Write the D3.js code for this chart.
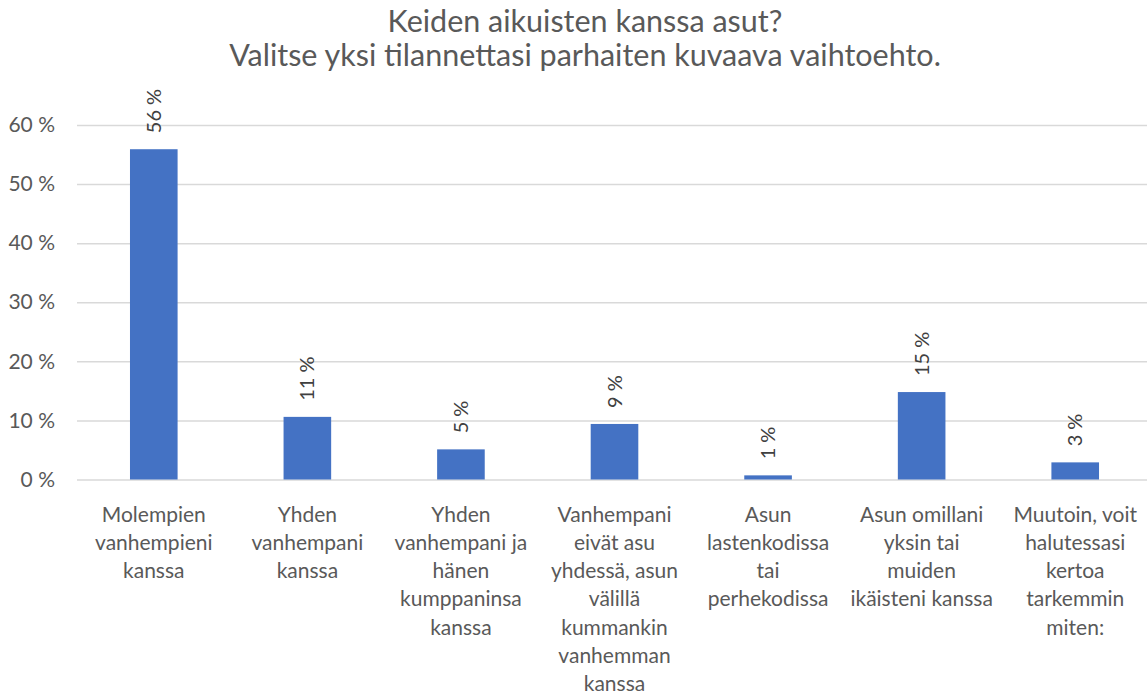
<!DOCTYPE html>
<html>
<head>
  <meta charset="UTF-8">
  <script src="https://d3js.org/d3.v7.min.js"></script>
  <title>Keiden aikuisten kanssa asut?</title>
  <style type="text/css">
    html, body { margin:0; background:#fff; }
    svg { display:block; font-family: Lato, "Open Sans", sans-serif; }
  </style>
</head>
<body>
  <div class="chart"></div>
  <script>
    // data
    var categories = [
      "Molempien\nvanhempieni\nkanssa",
      "Yhden\nvanhempani\nkanssa",
      "Yhden\nvanhempani ja\nhänen\nkumppaninsa\nkanssa",
      "Vanhempani\neivät asu\nyhdessä, asun\nvälillä\nkummankin\nvanhemman\nkanssa",
      "Asun\nlastenkodissa\ntai\nperhekodissa",
      "Asun omillani\nyksin tai\nmuiden\nikäisteni kanssa",
      "Muutoin, voit\nhalutessasi\nkertoa\ntarkemmin\nmiten:"
    ];
    var shares = [0.559, 0.106, 0.051, 0.094, 0.007, 0.148, 0.029];
    var yTicks = [0, 0.1, 0.2, 0.3, 0.4, 0.5, 0.6];
    var titleLines = ["Keiden aikuisten kanssa asut?", "Valitse yksi tilannettasi parhaiten kuvaava vaihtoehto."];

    var svgWidth = 1147, svgHeight = 695;
    var margin = {top: 125, right: -5, bottom: 215.5, left: 77};
    var width = svgWidth - margin.left - margin.right,
        height = svgHeight - margin.top - margin.bottom;

    var svg = d3.select(".chart")
      .append("svg")
      .attr("width", svgWidth)
      .attr("height", svgHeight);

    // title
    svg.append("g").selectAll("text")
      .data(titleLines)
      .enter()
      .append("text")
      .attr("x", 585)
      .attr("y", function(d, i) { return 32 + i * 34; })
      .attr("text-anchor", "middle")
      .attr("font-size", "30.5px")
      .attr("fill", "#595959")
      .text(function(d) { return d; });

    var chart = svg.append("g")
      .attr("transform", "translate(" + margin.left + "," + margin.top + ")");

    var xScale = d3.scaleBand()
      .domain(categories)
      .range([0, width])
      .padding(0);

    var yScale = d3.scaleLinear()
      .domain([0, 0.6])
      .range([height, 0]);

    var barWidth = xScale.bandwidth() * 0.31;

    // gridlines + y labels
    var yAxis = chart.append("g")
      .attr("class", "axis axis-y")
      .call(d3.axisLeft(yScale)
        .tickValues(yTicks)
        .tickSize(-width)
        .tickPadding(22)
        .tickFormat(function(d) { return Math.round(d * 100) + " %"; }));
    yAxis.select(".domain").remove();
    yAxis.selectAll(".tick line")
      .attr("stroke", "#d9d9d9")
      .attr("stroke-width", 1.5);
    yAxis.selectAll(".tick text")
      .attr("fill", "#595959")
      .attr("font-size", "21px")
      .attr("font-family", "Lato, sans-serif");

    // bars
    chart.selectAll("rect.bar")
      .data(shares)
      .enter()
      .append("rect")
      .attr("class", "bar")
      .attr("x", function(d, i) { return xScale(categories[i]) + (xScale.bandwidth() - barWidth) / 2; })
      .attr("y", function(d) { return yScale(d); })
      .attr("width", barWidth)
      .attr("height", function(d) { return height - yScale(d); })
      .attr("fill", "#4472c4");

    // value labels, rotated
    chart.selectAll("text.value")
      .data(shares)
      .enter()
      .append("text")
      .attr("class", "value")
      .attr("transform", function(d, i) {
        var cx = xScale(categories[i]) + xScale.bandwidth() / 2;
        return "translate(" + cx + "," + (yScale(d) - 16) + ") rotate(-90)";
      })
      .attr("dy", "0.35em")
      .attr("text-anchor", "start")
      .attr("font-size", "20px")
      .attr("fill", "#404040")
      .text(function(d) { return Math.round(d * 100) + " %"; });

    // category labels
    var catLabels = chart.selectAll("text.cat")
      .data(categories)
      .enter()
      .append("text")
      .attr("class", "cat")
      .attr("x", function(d) { return xScale(d) + xScale.bandwidth() / 2; })
      .attr("y", height + 42)
      .attr("text-anchor", "middle")
      .attr("font-size", "21px")
      .attr("fill", "#595959");

    catLabels.each(function(d) {
      var el = d3.select(this);
      d.split("\n").forEach(function(line, j) {
        el.append("tspan")
          .attr("x", xScale(d) + xScale.bandwidth() / 2)
          .attr("y", height + 42 + j * 28.3)
          .text(line);
      });
    });
  </script>
</body>
</html>
